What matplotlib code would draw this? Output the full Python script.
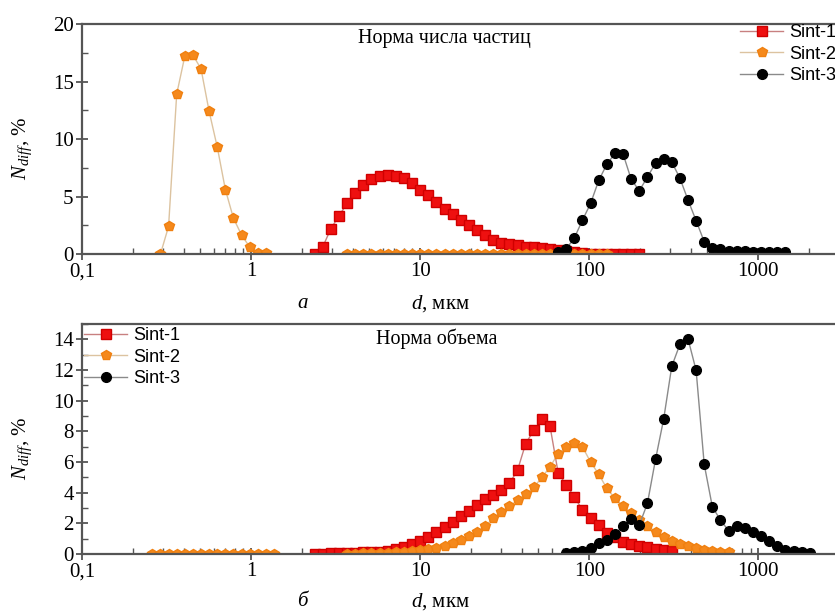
import numpy as np
import matplotlib
matplotlib.use('Agg')
import matplotlib.pyplot as plt
from matplotlib.ticker import FixedLocator, NullFormatter, MultipleLocator

plt.rcParams['font.family'] = ['Liberation Serif', 'DejaVu Serif']
plt.rcParams['mathtext.fontset'] = 'custom'
plt.rcParams['mathtext.rm'] = 'Liberation Serif'
plt.rcParams['mathtext.it'] = 'Liberation Serif:italic'

# size bins of the analyser, mkm (bin k=0 is 10 mkm)
bins = [0.2333, 0.2606, 0.2911, 0.3251, 0.3631, 0.4055, 0.4529, 0.5058, 0.5649, 0.6310,
        0.7047, 0.7870, 0.8790, 0.9817, 1.0965, 1.2246, 1.3677, 1.5276, 1.7061, 1.9055,
        2.1281, 2.3768, 2.6546, 2.9648, 3.3113, 3.6983, 4.1305, 4.6132, 5.1523, 5.7544,
        6.4269, 7.1779, 8.0168, 8.9536, 10.0, 11.169, 12.474, 13.932, 15.560, 17.378,
        19.409, 21.677, 24.210, 27.040, 30.200, 33.729, 37.670, 42.073, 46.989, 52.481,
        58.614, 65.464, 73.114, 81.658, 91.201, 101.86, 113.76, 127.06, 141.91, 158.49,
        177.01, 197.70, 220.80, 246.60, 275.42, 307.61, 343.56, 383.71, 428.55, 478.63,
        534.56, 597.04, 666.81, 744.73, 831.76, 928.97, 1037.5, 1158.8, 1294.2, 1445.4,
        1614.3, 1803.0, 2013.7]
K0 = 34  # index of the 10 mkm bin

nan = np.nan

# (a) number distribution
num_s1_start = -13
num_s1 = [0, 0.63, 2.2, 3.33, 4.4, 5.3, 6.0, 6.5, 6.8, 6.85, 6.8, 6.6, 6.15, 5.6, 5.1, 4.5,
          3.9, 3.45, 2.96, 2.52, 2.09, 1.65, 1.22, 1.0, 0.85, 0.75, 0.65, 0.57, 0.5, 0.42,
          0.33, 0.25, 0.15, 0.08, 0, 0, 0, 0, 0, 0, 0]
num_s2_start = -32
num_s2 = [0, 2.4, 13.9, 17.2, 17.3, 16.1, 12.4, 9.3, 5.6, 3.1, 1.65, 0.6, 0.1, 0.05,
          nan, nan, nan, nan, nan, nan, nan, nan, nan] + [0] * 33
num_s3_start = 17
num_s3 = [0.15, 0.45, 1.4, 2.95, 4.4, 6.4, 7.8, 8.75, 8.7, 6.5, 5.5, 6.7, 7.9, 8.3, 8.0,
          6.6, 4.7, 2.9, 1.07, 0.55, 0.4, 0.3, 0.25, 0.22, 0.2, 0.2, 0.18, 0.18, 0.15]

# (b) volume distribution
vol_s1_start = -13
vol_s1 = [0.02, 0.03, 0.04, 0.05, 0.06, 0.08, 0.1, 0.12, 0.15, 0.2, 0.33, 0.48, 0.65, 0.87,
          1.13, 1.41, 1.74, 2.1, 2.47, 2.82, 3.19, 3.56, 3.84, 4.2, 4.6, 5.47, 7.2, 8.07,
          8.79, 8.33, 5.3, 4.5, 3.73, 2.86, 2.32, 1.89, 1.39, 1.13, 0.8, 0.65, 0.52, 0.44,
          0.33, 0.26, 0.21]
vol_s2_start = -33
vol_s2 = [0] * 16 + [nan] * 8 + [
          0.02, 0.03, 0.04, 0.05, 0.06, 0.08, 0.1, 0.13, 0.18, 0.24, 0.32, 0.42, 0.55, 0.7,
          0.9, 1.15, 1.45, 1.82, 2.32, 2.75, 3.12, 3.5, 3.9, 4.34, 5.0, 5.68, 6.55, 6.98,
          7.25, 6.98, 6.0, 5.2, 4.28, 3.63, 3.12, 2.65, 2.21, 1.85, 1.45, 1.1, 0.85, 0.65,
          0.5, 0.37, 0.28, 0.2, 0.15, 0.1]
vol_s3_start = 18
vol_s3 = [0.08, 0.15, 0.21, 0.37, 0.7, 0.91, 1.28, 1.82, 2.26, 1.89, 3.3, 6.17, 8.79,
          12.24, 13.67, 14.04, 11.98, 5.84, 3.08, 2.21, 1.52, 1.84, 1.67, 1.45, 1.17, 0.87,
          0.52, 0.26, 0.2, 0.15, 0.08]

labels = ['Sint-1', 'Sint-2', 'Sint-3']
xtick_vals = [0.1, 1, 10, 100, 1000]
xtick_labels = ['0,1', '1', '10', '100', '1000']

styles = [
    dict(marker='s', color='#c88080', mfc='#ee1010', mec='#d00000', ms=6.5),
    dict(marker='p', color='#dcc3a0', mfc='#f5891c', mec='#f08010', ms=7.5),
    dict(marker='o', color='#8a8a8a', mfc='black', mec='black', ms=7),
]


def xs(start, ys):
    i = K0 + start
    return bins[i:i + len(ys)]


def setup(ax, ymax, ymajor, yminor):
    ax.set_xscale('log')
    ax.set_xlim(0.1, 3000)
    ax.set_ylim(0, ymax)
    ax.xaxis.set_major_locator(FixedLocator(xtick_vals))
    ax.set_xticklabels(xtick_labels)
    ax.xaxis.set_minor_locator(FixedLocator(
        [m * 10.0 ** e for e in range(-1, 4) for m in range(2, 10)]))
    ax.xaxis.set_minor_formatter(NullFormatter())
    ax.yaxis.set_major_locator(MultipleLocator(ymajor))
    ax.yaxis.set_minor_locator(MultipleLocator(yminor))
    for s in ax.spines.values():
        s.set_color('#555555')
        s.set_linewidth(1.6)
    ax.tick_params(which='major', direction='inout', length=8, width=1.3,
                   color='#555555', labelsize=15, pad=2)
    ax.tick_params(which='minor', direction='in', length=4, width=1.0, color='#555555')
    ax.set_ylabel(r'$N_{diff}$, %', fontsize=15)
    ax.yaxis.set_label_coords(-0.064, 0.46)


fig = plt.figure(figsize=(8.35, 6.13), dpi=100)
ax1 = fig.add_axes([0.0982, 0.5856, 0.9066, 0.3752])
ax2 = fig.add_axes([0.0982, 0.0963, 0.9066, 0.3751])

for st, ys, lab in zip(styles, [(num_s1_start, num_s1), (num_s2_start, num_s2),
                                (num_s3_start, num_s3)], labels):
    ax1.plot(xs(*ys), ys[1], lw=1.0, label=lab, **st)
for st, ys, lab in zip(styles, [(vol_s1_start, vol_s1), (vol_s2_start, vol_s2),
                                (vol_s3_start, vol_s3)], labels):
    ax2.plot(xs(*ys), ys[1], lw=1.0, label=lab, **st)

setup(ax1, 20, 5, 2.5)
setup(ax2, 15, 2, 1)

legprops = dict(family='Liberation Sans', size=13)
ax1.legend(loc='upper left', bbox_to_anchor=(740 / 835, 1 - 24 / 613),
           bbox_transform=fig.transFigure, frameon=False, prop=legprops,
           numpoints=1, handlelength=2.4, handletextpad=0.3, labelspacing=0.25,
           borderpad=0, borderaxespad=0)
ax2.legend(loc='upper left', bbox_to_anchor=(84 / 835, 1 - 327 / 613),
           bbox_transform=fig.transFigure, frameon=False, prop=legprops,
           numpoints=1, handlelength=2.4, handletextpad=0.3, labelspacing=0.25,
           borderpad=0, borderaxespad=0)

fig.text(444 / 835, 1 - 39 / 613, 'Норма числа частиц', ha='center', va='center', fontsize=14.5)
fig.text(437 / 835, 1 - 339 / 613, 'Норма объема', ha='center', va='center', fontsize=14.5)

fig.text(303 / 835, 1 - 304 / 613, 'а', ha='center', va='center', fontsize=15, style='italic')
fig.text(440 / 835, 1 - 304 / 613, r'$d$, мкм', ha='center', va='center', fontsize=15)
fig.text(302 / 835, 1 - 602 / 613, 'б', ha='center', va='center', fontsize=15, style='italic')
fig.text(440 / 835, 1 - 602 / 613, r'$d$, мкм', ha='center', va='center', fontsize=15)

fig.savefig('out.png', dpi=100)
